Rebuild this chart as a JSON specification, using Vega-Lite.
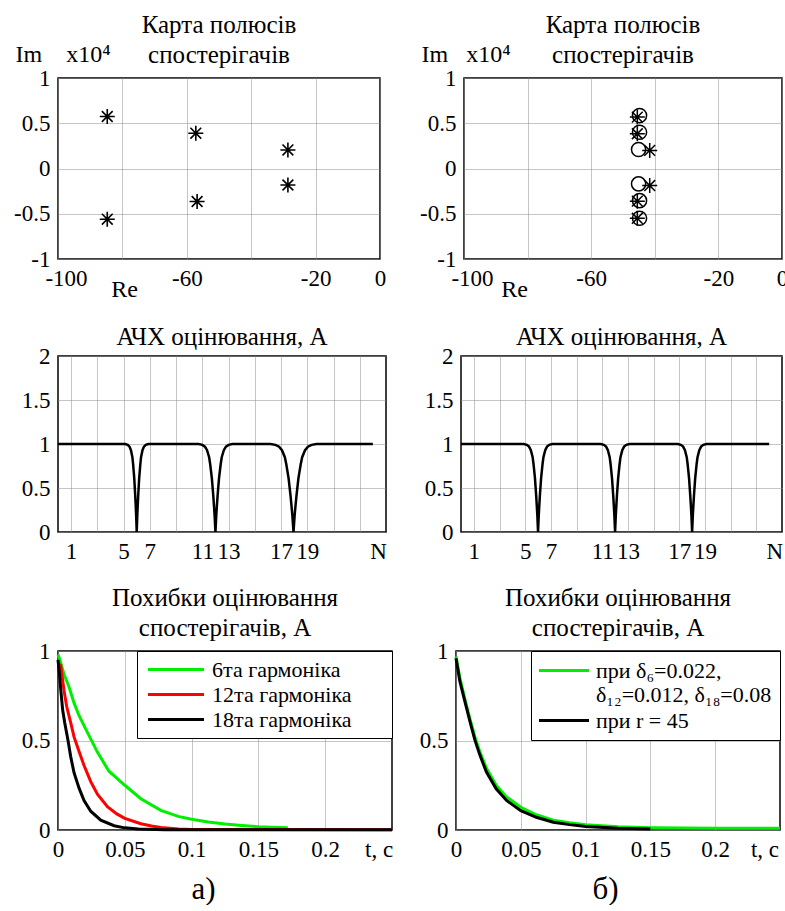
{
  "$schema": "https://vega.github.io/schema/vega-lite/v6.json",
  "background": "white",
  "padding": {"left": 12, "top": 12, "right": 0, "bottom": 0},
  "autosize": {"type": "pad"},
  "config": {
    "font": "Liberation Serif",
    "view": {"stroke": "black", "strokeWidth": 1.5},
    "axis": {
      "domain": false, "ticks": false, "grid": true,
      "gridColor": "#8a8a8a", "gridDash": [1, 1], "gridWidth": 1,
      "labelFont": "Liberation Serif", "labelFontSize": 23, "labelColor": "black",
      "labelPadding": 8, "labelFlush": false, "labelOverlap": false, "labelBound": false,
      "titleFont": "Liberation Serif", "titleFontWeight": "normal", "titleColor": "black"
    },
    "title": {"font": "Liberation Serif", "fontSize": 25, "fontWeight": "normal", "color": "black", "lineHeight": 30},
    "legend": {
      "labelFont": "Liberation Serif", "labelFontSize": 22, "labelColor": "black", "labelLimit": 0,
      "strokeColor": "black", "fillColor": "white", "symbolStrokeWidth": 3
    }
  },
  "spacing": 20,
  "vconcat": [
    {
      "spacing": 21,
      "vconcat": [
        {
          "bounds": "flush",
          "spacing": 84,
          "hconcat": [
            {
              "width": 322, "height": 181,
              "title": {"text": ["Карта полюсів", "спостерігачів"], "offset": -26},
              "data": {"values": [
                {"re": -84.7, "im": 0.575}, {"re": -84.7, "im": -0.56},
                {"re": -57.2, "im": 0.39}, {"re": -56.8, "im": -0.365},
                {"re": -28.6, "im": 0.205}, {"re": -28.6, "im": -0.182}
              ]},
              "mark": {"type": "point", "shape": "M-1,0L1,0M0,-1L0,1M-0.72,-0.72L0.72,0.72M-0.72,0.72L0.72,-0.72", "filled": false, "stroke": "black", "strokeWidth": 1.6, "size": 225, "opacity": 1},
              "encoding": {
                "x": {"field": "re", "type": "quantitative", "scale": {"domain": [-100, 0], "nice": false, "zero": false},
                  "axis": {"values": [-100, -80, -60, -40, -20, 0], "labelExpr": "datum.value == -80 || datum.value == -40 ? '' : toString(datum.value)",
                    "labelOffset": {"condition": {"test": "datum.value == -100", "value": 8}, "value": 0},
                    "title": "Re", "titleFontSize": 24, "titleX": 66, "titleY": 37, "titleAlign": "center", "titleBaseline": "alphabetic"}},
                "y": {"field": "im", "type": "quantitative", "scale": {"domain": [-1, 1], "nice": false},
                  "axis": {"values": [-1, -0.5, 0, 0.5, 1], "labelExpr": "toString(datum.value)",
                    "title": "Im\u00a0\u00a0\u00a0\u00a0x10⁴", "titleFontSize": 24, "titleAngle": 0, "titleX": -43, "titleY": -17, "titleAlign": "left", "titleBaseline": "alphabetic"}}
              }
            },
            {
              "width": 318, "height": 181,
              "title": {"text": ["Карта полюсів", "спостерігачів"], "offset": -26},
              "data": {"values": [
                {"re": -44.8, "im": 0.585, "k": "o"}, {"re": -44.8, "im": 0.4, "k": "o"},
                {"re": -45.1, "im": 0.21, "k": "o"}, {"re": -45.1, "im": -0.17, "k": "o"},
                {"re": -44.8, "im": -0.355, "k": "o"}, {"re": -44.8, "im": -0.55, "k": "o"},
                {"re": -45.5, "im": 0.568, "k": "star"}, {"re": -45.5, "im": 0.384, "k": "star"},
                {"re": -41.6, "im": 0.2, "k": "star"}, {"re": -41.6, "im": -0.188, "k": "star"},
                {"re": -45.5, "im": -0.361, "k": "star"}, {"re": -45.5, "im": -0.55, "k": "star"}
              ]},
              "mark": {"type": "point", "filled": false, "stroke": "black", "strokeWidth": 1.5, "opacity": 1},
              "encoding": {
                "x": {"field": "re", "type": "quantitative", "scale": {"domain": [-100, 0], "nice": false, "zero": false},
                  "axis": {"values": [-100, -80, -60, -40, -20, 0], "labelExpr": "datum.value == -80 || datum.value == -40 ? '' : toString(datum.value)",
                    "labelOffset": {"condition": {"test": "datum.value == -100", "value": 8}, "value": 0},
                    "title": "Re", "titleFontSize": 24, "titleX": 50, "titleY": 37, "titleAlign": "center", "titleBaseline": "alphabetic"}},
                "y": {"field": "im", "type": "quantitative", "scale": {"domain": [-1, 1], "nice": false},
                  "axis": {"values": [-1, -0.5, 0, 0.5, 1], "labelExpr": "toString(datum.value)",
                    "title": "Im\u00a0\u00a0\u00a0x10⁴", "titleFontSize": 24, "titleAngle": 0, "titleX": -43, "titleY": -17, "titleAlign": "left", "titleBaseline": "alphabetic"}},
                "shape": {"field": "k", "type": "nominal", "scale": {"domain": ["o", "star"], "range": ["circle", "M-1,0L1,0M0,-1L0,1M-0.72,-0.72L0.72,0.72M-0.72,0.72L0.72,-0.72"]}, "legend": null},
                "size": {"field": "k", "type": "nominal", "scale": {"domain": ["o", "star"], "range": [200, 225]}, "legend": null}
              }
            }
          ]
        },
        {
          "bounds": "flush",
          "spacing": 75,
          "hconcat": [
            {
              "width": 328, "height": 176,
              "title": {"text": "АЧХ оцінювання, А", "offset": -4.5},
              "data": {"values": [
                {"n": 0, "a": 1}, {"n": 5.12, "a": 1}, {"n": 5.31, "a": 0.99}, {"n": 5.45, "a": 0.97}, {"n": 5.56, "a": 0.93},
                {"n": 5.67, "a": 0.85}, {"n": 5.725, "a": 0.77}, {"n": 5.813, "a": 0.61}, {"n": 5.884, "a": 0.42}, {"n": 5.923, "a": 0.3},
                {"n": 5.956, "a": 0.19}, {"n": 6, "a": 0}, {"n": 6.044, "a": 0.19}, {"n": 6.077, "a": 0.3}, {"n": 6.116, "a": 0.42},
                {"n": 6.187, "a": 0.61}, {"n": 6.275, "a": 0.77}, {"n": 6.33, "a": 0.85}, {"n": 6.44, "a": 0.93}, {"n": 6.55, "a": 0.97},
                {"n": 6.69, "a": 0.99}, {"n": 6.88, "a": 1},
                {"n": 10.72, "a": 1}, {"n": 11.0, "a": 0.99}, {"n": 11.2, "a": 0.97}, {"n": 11.36, "a": 0.93}, {"n": 11.52, "a": 0.85},
                {"n": 11.6, "a": 0.77}, {"n": 11.728, "a": 0.61}, {"n": 11.832, "a": 0.42}, {"n": 11.888, "a": 0.3}, {"n": 11.936, "a": 0.19},
                {"n": 12, "a": 0}, {"n": 12.064, "a": 0.19}, {"n": 12.112, "a": 0.3}, {"n": 12.168, "a": 0.42}, {"n": 12.272, "a": 0.61},
                {"n": 12.4, "a": 0.77}, {"n": 12.48, "a": 0.85}, {"n": 12.64, "a": 0.93}, {"n": 12.8, "a": 0.97}, {"n": 13.0, "a": 0.99},
                {"n": 13.28, "a": 1},
                {"n": 16.19, "a": 1}, {"n": 16.575, "a": 0.99}, {"n": 16.85, "a": 0.97}, {"n": 17.07, "a": 0.93}, {"n": 17.29, "a": 0.85},
                {"n": 17.4, "a": 0.77}, {"n": 17.576, "a": 0.61}, {"n": 17.719, "a": 0.42}, {"n": 17.796, "a": 0.3}, {"n": 17.862, "a": 0.19},
                {"n": 17.95, "a": 0}, {"n": 18.038, "a": 0.19}, {"n": 18.104, "a": 0.3}, {"n": 18.181, "a": 0.42}, {"n": 18.324, "a": 0.61},
                {"n": 18.5, "a": 0.77}, {"n": 18.61, "a": 0.85}, {"n": 18.83, "a": 0.93}, {"n": 19.05, "a": 0.97}, {"n": 19.325, "a": 0.99},
                {"n": 19.71, "a": 1}, {"n": 24, "a": 1}
              ]},
              "mark": {"type": "line", "color": "black", "strokeWidth": 2.5},
              "encoding": {
                "x": {"field": "n", "type": "quantitative", "scale": {"domain": [0, 25], "nice": false, "zero": false},
                  "axis": {"values": [1, 3, 5, 7, 9, 11, 13, 15, 17, 19, 21, 23, 24.4], "title": null,
                    "labelExpr": "datum.value > 24 ? 'N' : (indexof([1, 5, 7, 11, 13, 17, 19], datum.value) >= 0 ? toString(datum.value) : '')",
                    "gridOpacity": {"condition": {"test": "datum.value > 24", "value": 0}, "value": 1}}},
                "y": {"field": "a", "type": "quantitative", "scale": {"domain": [0, 2], "nice": false},
                  "axis": {"values": [0, 0.5, 1, 1.5, 2], "labelExpr": "toString(datum.value)", "title": null}}
              }
            },
            {
              "width": 321, "height": 176,
              "title": {"text": "АЧХ оцінювання, А", "offset": -4.5},
              "data": {"values": [
                {"n": 0, "a": 1}, {"n": 4.88, "a": 1}, {"n": 5.125, "a": 0.99}, {"n": 5.3, "a": 0.97}, {"n": 5.44, "a": 0.93},
                {"n": 5.58, "a": 0.85}, {"n": 5.65, "a": 0.77}, {"n": 5.762, "a": 0.61}, {"n": 5.853, "a": 0.42}, {"n": 5.902, "a": 0.3},
                {"n": 5.944, "a": 0.19}, {"n": 6, "a": 0}, {"n": 6.056, "a": 0.19}, {"n": 6.098, "a": 0.3}, {"n": 6.147, "a": 0.42},
                {"n": 6.238, "a": 0.61}, {"n": 6.35, "a": 0.77}, {"n": 6.42, "a": 0.85}, {"n": 6.56, "a": 0.93}, {"n": 6.7, "a": 0.97},
                {"n": 6.875, "a": 0.99}, {"n": 7.12, "a": 1},
                {"n": 10.88, "a": 1}, {"n": 11.125, "a": 0.99}, {"n": 11.3, "a": 0.97}, {"n": 11.44, "a": 0.93}, {"n": 11.58, "a": 0.85},
                {"n": 11.65, "a": 0.77}, {"n": 11.762, "a": 0.61}, {"n": 11.853, "a": 0.42}, {"n": 11.902, "a": 0.3}, {"n": 11.944, "a": 0.19},
                {"n": 12, "a": 0}, {"n": 12.056, "a": 0.19}, {"n": 12.098, "a": 0.3}, {"n": 12.147, "a": 0.42}, {"n": 12.238, "a": 0.61},
                {"n": 12.35, "a": 0.77}, {"n": 12.42, "a": 0.85}, {"n": 12.56, "a": 0.93}, {"n": 12.7, "a": 0.97}, {"n": 12.875, "a": 0.99},
                {"n": 13.12, "a": 1},
                {"n": 16.88, "a": 1}, {"n": 17.125, "a": 0.99}, {"n": 17.3, "a": 0.97}, {"n": 17.44, "a": 0.93}, {"n": 17.58, "a": 0.85},
                {"n": 17.65, "a": 0.77}, {"n": 17.762, "a": 0.61}, {"n": 17.853, "a": 0.42}, {"n": 17.902, "a": 0.3}, {"n": 17.944, "a": 0.19},
                {"n": 18, "a": 0}, {"n": 18.056, "a": 0.19}, {"n": 18.098, "a": 0.3}, {"n": 18.147, "a": 0.42}, {"n": 18.238, "a": 0.61},
                {"n": 18.35, "a": 0.77}, {"n": 18.42, "a": 0.85}, {"n": 18.56, "a": 0.93}, {"n": 18.7, "a": 0.97}, {"n": 18.875, "a": 0.99},
                {"n": 19.12, "a": 1}, {"n": 24, "a": 1}
              ]},
              "mark": {"type": "line", "color": "black", "strokeWidth": 2.5},
              "encoding": {
                "x": {"field": "n", "type": "quantitative", "scale": {"domain": [0, 25], "nice": false, "zero": false},
                  "axis": {"values": [1, 3, 5, 7, 9, 11, 13, 15, 17, 19, 21, 23, 24.4], "title": null,
                    "labelExpr": "datum.value > 24 ? 'N' : (indexof([1, 5, 7, 11, 13, 17, 19], datum.value) >= 0 ? toString(datum.value) : '')",
                    "gridOpacity": {"condition": {"test": "datum.value > 24", "value": 0}, "value": 1}}},
                "y": {"field": "a", "type": "quantitative", "scale": {"domain": [0, 2], "nice": false},
                  "axis": {"values": [0, 0.5, 1, 1.5, 2], "labelExpr": "toString(datum.value)", "title": null}}
              }
            }
          ]
        }
      ]
    },
    {
      "bounds": "flush",
      "spacing": 64,
      "resolve": {"scale": {"color": "independent"}, "legend": {"color": "independent"}},
      "hconcat": [
        {
          "width": 334, "height": 179,
          "title": {"text": ["Похибки оцінювання", "спостерігачів, А"], "offset": -0.5},
          "data": {"values": [
            {"t": 0, "y": 0.98, "s": "6та гармоніка"}, {"t": 0.001, "y": 0.96, "s": "6та гармоніка"}, {"t": 0.0045, "y": 0.87, "s": "6та гармоніка"},
            {"t": 0.0082, "y": 0.8, "s": "6та гармоніка"}, {"t": 0.012, "y": 0.71, "s": "6та гармоніка"}, {"t": 0.0157, "y": 0.64, "s": "6та гармоніка"},
            {"t": 0.022, "y": 0.545, "s": "6та гармоніка"}, {"t": 0.0295, "y": 0.435, "s": "6та гармоніка"}, {"t": 0.038, "y": 0.33, "s": "6та гармоніка"},
            {"t": 0.05, "y": 0.25, "s": "6та гармоніка"}, {"t": 0.062, "y": 0.175, "s": "6та гармоніка"}, {"t": 0.077, "y": 0.11, "s": "6та гармоніка"},
            {"t": 0.09, "y": 0.076, "s": "6та гармоніка"}, {"t": 0.1, "y": 0.06, "s": "6та гармоніка"}, {"t": 0.1125, "y": 0.045, "s": "6та гармоніка"},
            {"t": 0.125, "y": 0.033, "s": "6та гармоніка"}, {"t": 0.1375, "y": 0.025, "s": "6та гармоніка"}, {"t": 0.15, "y": 0.018, "s": "6та гармоніка"},
            {"t": 0.16, "y": 0.015, "s": "6та гармоніка"}, {"t": 0.172, "y": 0.012, "s": "6та гармоніка"},
            {"t": 0, "y": 0.93, "s": "12та гармоніка"}, {"t": 0.002, "y": 0.92, "s": "12та гармоніка"}, {"t": 0.0045, "y": 0.78, "s": "12та гармоніка"},
            {"t": 0.0065, "y": 0.69, "s": "12та гармоніка"}, {"t": 0.0095, "y": 0.6, "s": "12та гармоніка"}, {"t": 0.012, "y": 0.52, "s": "12та гармоніка"},
            {"t": 0.0157, "y": 0.44, "s": "12та гармоніка"}, {"t": 0.0195, "y": 0.36, "s": "12та гармоніка"}, {"t": 0.0245, "y": 0.27, "s": "12та гармоніка"},
            {"t": 0.0295, "y": 0.2, "s": "12та гармоніка"}, {"t": 0.037, "y": 0.13, "s": "12та гармоніка"}, {"t": 0.044, "y": 0.09, "s": "12та гармоніка"},
            {"t": 0.05, "y": 0.065, "s": "12та гармоніка"}, {"t": 0.062, "y": 0.035, "s": "12та гармоніка"}, {"t": 0.07, "y": 0.022, "s": "12та гармоніка"},
            {"t": 0.077, "y": 0.014, "s": "12та гармоніка"}, {"t": 0.09, "y": 0.006, "s": "12та гармоніка"}, {"t": 0.1, "y": 0.003, "s": "12та гармоніка"},
            {"t": 0.25, "y": 0.002, "s": "12та гармоніка"},
            {"t": 0, "y": 0.95, "s": "18та гармоніка"}, {"t": 0.001, "y": 0.88, "s": "18та гармоніка"}, {"t": 0.002, "y": 0.79, "s": "18та гармоніка"},
            {"t": 0.0035, "y": 0.67, "s": "18та гармоніка"}, {"t": 0.005, "y": 0.6, "s": "18та гармоніка"}, {"t": 0.0075, "y": 0.5, "s": "18та гармоніка"},
            {"t": 0.0095, "y": 0.41, "s": "18та гармоніка"}, {"t": 0.012, "y": 0.32, "s": "18та гармоніка"}, {"t": 0.0157, "y": 0.235, "s": "18та гармоніка"},
            {"t": 0.0195, "y": 0.165, "s": "18та гармоніка"}, {"t": 0.0245, "y": 0.105, "s": "18та гармоніка"}, {"t": 0.032, "y": 0.055, "s": "18та гармоніка"},
            {"t": 0.042, "y": 0.024, "s": "18та гармоніка"}, {"t": 0.05, "y": 0.012, "s": "18та гармоніка"}, {"t": 0.06, "y": 0.005, "s": "18та гармоніка"},
            {"t": 0.08, "y": 0.002, "s": "18та гармоніка"}, {"t": 0.25, "y": 0.001, "s": "18та гармоніка"}
          ]},
          "mark": {"type": "line", "strokeWidth": 3},
          "encoding": {
            "x": {"field": "t", "type": "quantitative", "scale": {"domain": [0, 0.25], "nice": false, "zero": false},
              "axis": {"values": [0, 0.05, 0.1, 0.15, 0.2, 0.24], "labelExpr": "datum.value > 0.23 ? 't, c' : toString(datum.value)",
                "gridOpacity": {"condition": {"test": "datum.value > 0.23", "value": 0}, "value": 1},
                "title": "а)", "titleFontSize": 31, "titleX": 145, "titleY": 68, "titleAlign": "center", "titleBaseline": "alphabetic"}},
            "y": {"field": "y", "type": "quantitative", "scale": {"domain": [0, 1], "nice": false},
              "axis": {"values": [0, 0.5, 1], "labelExpr": "toString(datum.value)", "title": null}},
            "color": {"field": "s", "type": "nominal",
              "scale": {"domain": ["6та гармоніка", "12та гармоніка", "18та гармоніка"], "range": ["#00ee00", "#ff0000", "#000000"]},
              "legend": {"title": null, "orient": "top-right", "offset": 0, "padding": 7, "rowPadding": 2,
                "symbolType": "M-2.8,0H2.8", "symbolSize": 400, "symbolOffset": 20.5, "labelOffset": 24.5,
                "labelExpr": "datum.label + '\u00a0\u00a0\u00a0\u00a0\u00a0\u00a0\u200b'"}}
          }
        },
        {
          "width": 324, "height": 179,
          "title": {"text": ["Похибки оцінювання", "спостерігачів, А"], "offset": -0.5},
          "data": {"values": [
            {"t": 0, "y": 0.97, "s": "при δ₆=0.022,|δ₁₂=0.012, δ₁₈=0.08"}, {"t": 0.003, "y": 0.85, "s": "при δ₆=0.022,|δ₁₂=0.012, δ₁₈=0.08"},
            {"t": 0.0069, "y": 0.73, "s": "при δ₆=0.022,|δ₁₂=0.012, δ₁₈=0.08"}, {"t": 0.0108, "y": 0.62, "s": "при δ₆=0.022,|δ₁₂=0.012, δ₁₈=0.08"},
            {"t": 0.0146, "y": 0.52, "s": "при δ₆=0.022,|δ₁₂=0.012, δ₁₈=0.08"}, {"t": 0.0185, "y": 0.435, "s": "при δ₆=0.022,|δ₁₂=0.012, δ₁₈=0.08"},
            {"t": 0.0235, "y": 0.345, "s": "при δ₆=0.022,|δ₁₂=0.012, δ₁₈=0.08"}, {"t": 0.031, "y": 0.25, "s": "при δ₆=0.022,|δ₁₂=0.012, δ₁₈=0.08"},
            {"t": 0.039, "y": 0.185, "s": "при δ₆=0.022,|δ₁₂=0.012, δ₁₈=0.08"}, {"t": 0.05, "y": 0.127, "s": "при δ₆=0.022,|δ₁₂=0.012, δ₁₈=0.08"},
            {"t": 0.062, "y": 0.085, "s": "при δ₆=0.022,|δ₁₂=0.012, δ₁₈=0.08"}, {"t": 0.075, "y": 0.055, "s": "при δ₆=0.022,|δ₁₂=0.012, δ₁₈=0.08"},
            {"t": 0.0877, "y": 0.04, "s": "при δ₆=0.022,|δ₁₂=0.012, δ₁₈=0.08"}, {"t": 0.1, "y": 0.03, "s": "при δ₆=0.022,|δ₁₂=0.012, δ₁₈=0.08"},
            {"t": 0.125, "y": 0.018, "s": "при δ₆=0.022,|δ₁₂=0.012, δ₁₈=0.08"}, {"t": 0.15, "y": 0.013, "s": "при δ₆=0.022,|δ₁₂=0.012, δ₁₈=0.08"},
            {"t": 0.2, "y": 0.01, "s": "при δ₆=0.022,|δ₁₂=0.012, δ₁₈=0.08"}, {"t": 0.25, "y": 0.01, "s": "при δ₆=0.022,|δ₁₂=0.012, δ₁₈=0.08"},
            {"t": 0, "y": 0.96, "s": "при r = 45"}, {"t": 0.003, "y": 0.83, "s": "при r = 45"}, {"t": 0.0069, "y": 0.717, "s": "при r = 45"},
            {"t": 0.0108, "y": 0.605, "s": "при r = 45"}, {"t": 0.0146, "y": 0.502, "s": "при r = 45"}, {"t": 0.0185, "y": 0.417, "s": "при r = 45"},
            {"t": 0.0235, "y": 0.324, "s": "при r = 45"}, {"t": 0.031, "y": 0.23, "s": "при r = 45"}, {"t": 0.039, "y": 0.165, "s": "при r = 45"},
            {"t": 0.05, "y": 0.108, "s": "при r = 45"}, {"t": 0.062, "y": 0.071, "s": "при r = 45"}, {"t": 0.075, "y": 0.043, "s": "при r = 45"},
            {"t": 0.0877, "y": 0.03, "s": "при r = 45"}, {"t": 0.1, "y": 0.02, "s": "при r = 45"}, {"t": 0.125, "y": 0.01, "s": "при r = 45"},
            {"t": 0.15, "y": 0.005, "s": "при r = 45"}
          ]},
          "mark": {"type": "line", "strokeWidth": 3},
          "encoding": {
            "x": {"field": "t", "type": "quantitative", "scale": {"domain": [0, 0.25], "nice": false, "zero": false},
              "axis": {"values": [0, 0.05, 0.1, 0.15, 0.2, 0.238], "labelExpr": "datum.value > 0.23 ? 't, c' : toString(datum.value)",
                "gridOpacity": {"condition": {"test": "datum.value > 0.23", "value": 0}, "value": 1},
                "title": "б)", "titleFontSize": 31, "titleX": 149, "titleY": 68, "titleAlign": "center", "titleBaseline": "alphabetic"}},
            "y": {"field": "y", "type": "quantitative", "scale": {"domain": [0, 1], "nice": false},
              "axis": {"values": [0, 0.5, 1], "labelExpr": "toString(datum.value)", "title": null}},
            "color": {"field": "s", "type": "nominal",
              "scale": {"domain": ["при δ₆=0.022,|δ₁₂=0.012, δ₁₈=0.08", "при r = 45"], "range": ["#00ee00", "#000000"]},
              "legend": {"title": null, "orient": "top-right", "offset": 0, "padding": 8, "rowPadding": 3,
                "symbolType": "M-2.5,0H2.5", "symbolSize": 400, "symbolOffset": 13.5, "labelOffset": 20.5,
                "labelExpr": "split(datum.label, '|')"}}
          }
        }
      ]
    }
  ]
}
